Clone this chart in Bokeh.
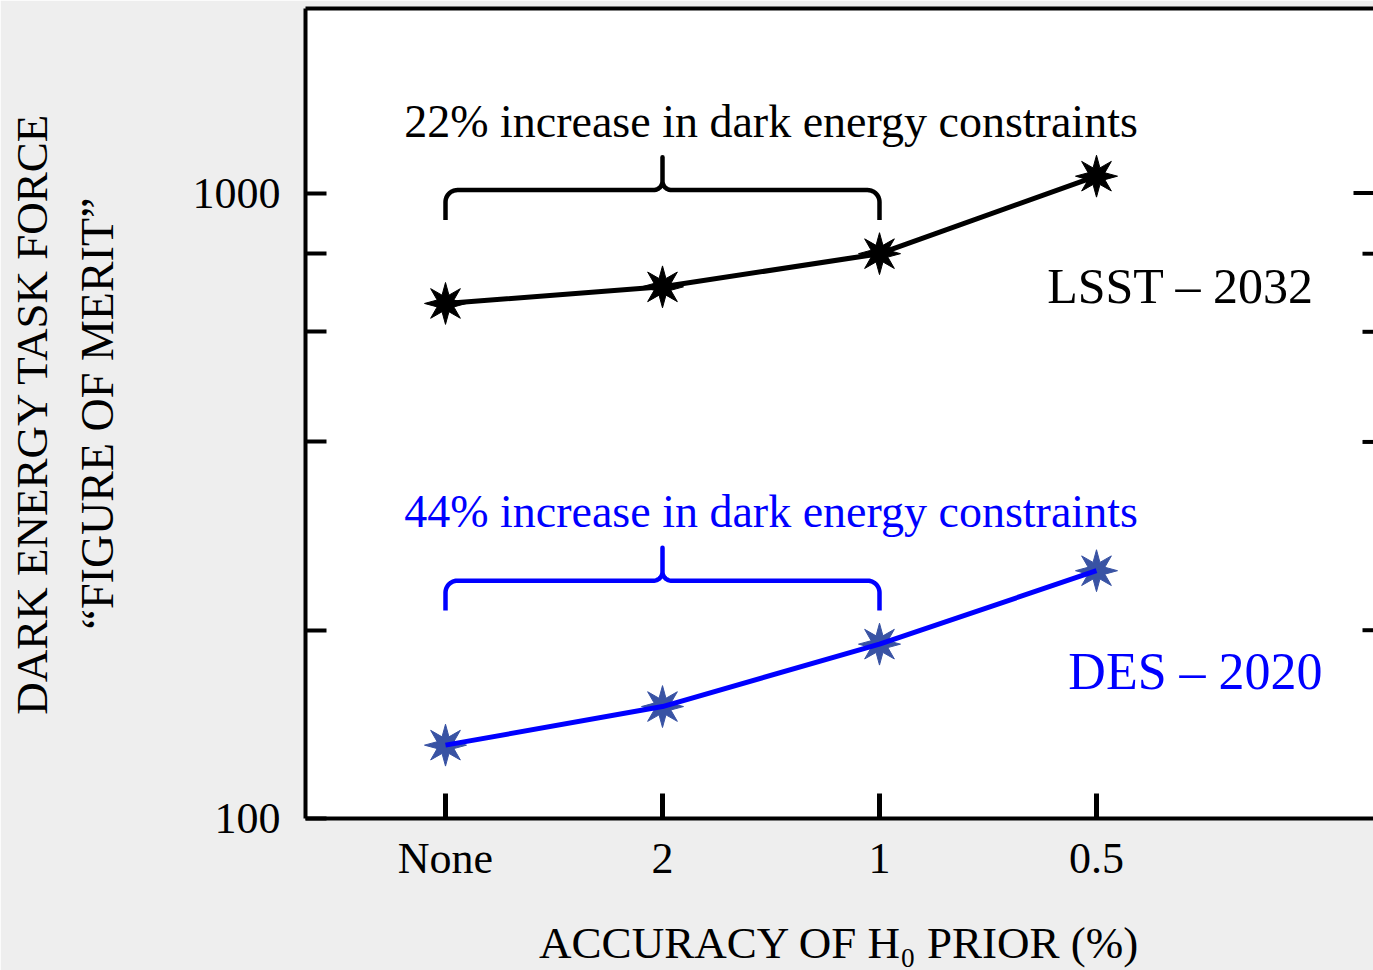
import numpy as np
from bokeh.plotting import figure
from bokeh.models import FixedTicker, LogAxis, LinearAxis, Range1d
from bokeh.core.properties import value
from bokeh.embed import file_html
from bokeh.resources import INLINE

# ---------------- data ----------------
h0_prior = ["None", "2", "1", "0.5"]          # accuracy of H0 prior (%)
lsst_fom = [666, 708, 800, 1064]              # LSST - 2032 figure of merit
des_fom = [131, 151, 190, 249]                # DES - 2020 figure of merit
y_major = [100, 1000]
y_minor = [200, 400, 600, 800]
lsst_note = "22% increase in dark energy constraints"
des_note = "44% increase in dark energy constraints"
lsst_name = "LSST \u2013 2032"
des_name = "DES \u2013 2020"

# ---------------- geometry ----------------
W, H = 1373, 970
BL, BB, BT = 305, 150, 8
FW = W - BL
FH = H - BB - BT
PX_X = 217.0      # pixels per category step
PX_DEC = 627.0    # pixels per decade
x_start = -140.0 / PX_X
x_end = x_start + FW / PX_X
y_top = 100 * 10 ** (FH / PX_DEC)

FONT = "Liberation Serif"
BLACK = "#000000"
BLUE = "#0000ff"
STAR_BLUE = "#3953a4"

xpos = list(range(len(h0_prior)))

p = figure(width=W, height=H, y_axis_type="log",
           x_range=Range1d(x_start, x_end), y_range=Range1d(100, y_top),
           output_backend="svg", toolbar_location=None,
           min_border_left=BL, min_border_bottom=BB, min_border_top=BT,
           min_border_right=0)
p.grid.visible = False
p.outline_line_color = None
p.background_fill_color = "white"
p.border_fill_color = "#eeeeee"

# bottom axis
xa = p.xaxis[0]
xa.ticker = FixedTicker(ticks=xpos, minor_ticks=[])
xa.major_label_overrides = {i: s for i, s in zip(xpos, h0_prior)}
xa.axis_line_width = 4
xa.axis_line_color = BLACK
xa.major_tick_in = 25
xa.major_tick_out = 0
xa.minor_tick_in = 0
xa.minor_tick_out = 0
xa.major_tick_line_width = 5
xa.major_label_text_font = FONT
xa.major_label_text_font_size = "44px"
xa.major_label_text_color = BLACK
xa.major_label_standoff = 15
xa.axis_label = "ACCURACY OF H\u2080 PRIOR (%)"
xa.axis_label_text_font = FONT
xa.axis_label_text_font_size = "45px"
xa.axis_label_text_font_style = "normal"
xa.axis_label_text_color = BLACK
xa.axis_label_standoff = 32

# left axis
ya = p.yaxis[0]
ya.ticker = FixedTicker(ticks=y_major, minor_ticks=y_minor)
ya.major_label_overrides = {v: str(v) for v in y_major}
ya.axis_line_width = 4
ya.axis_line_color = BLACK
ya.major_tick_in = 21
ya.major_tick_out = 0
ya.minor_tick_in = 21
ya.minor_tick_out = 0
ya.major_tick_line_width = 4
ya.minor_tick_line_width = 4
ya.minor_tick_line_color = BLACK
ya.major_label_text_font = FONT
ya.major_label_text_font_size = "44px"
ya.major_label_text_color = BLACK
ya.major_label_standoff = 25
ya.axis_label = "\u201cFIGURE OF MERIT\u201d"
ya.axis_label_text_font = FONT
ya.axis_label_text_font_size = "46px"
ya.axis_label_text_font_style = "normal"
ya.axis_label_text_color = BLACK
ya.axis_label_standoff = 67

ya2 = LogAxis(ticker=FixedTicker(ticks=[], minor_ticks=[]),
              axis_label="DARK ENERGY TASK FORCE",
              axis_line_color=None, major_tick_out=0, major_tick_in=0,
              minor_tick_out=0, minor_tick_in=0,
              major_label_text_font_size="0px", major_label_standoff=0,
              axis_label_text_font=FONT, axis_label_text_font_size="45px",
              axis_label_text_font_style="normal", axis_label_text_color=BLACK,
              axis_label_standoff=12)
p.add_layout(ya2, "left")

# top border
ta = LinearAxis(ticker=FixedTicker(ticks=[], minor_ticks=[]),
                axis_line_width=4, axis_line_color=BLACK,
                major_tick_out=0, major_tick_in=0, minor_tick_out=0, minor_tick_in=0,
                major_label_text_font_size="0px", major_label_standoff=0)
p.add_layout(ta, "above")

# right-side inward ticks
p.ray(x=[x_end] * len(y_major[1:]), y=y_major[1:], length=20, length_units="screen",
      angle=np.pi, line_width=4, line_color=BLACK)
p.ray(x=[x_end] * len(y_minor), y=y_minor, length=11, length_units="screen",
      angle=np.pi, line_width=4, line_color=BLACK)


def star(xc, yc, R=21.0, r=9.0):
    k = np.arange(16)
    ang = np.pi / 2 + k * np.pi / 8
    rad = np.where(k % 2 == 0, R, r)
    xs = xc + rad * np.cos(ang) / PX_X
    ys = yc * 10 ** (rad * np.sin(ang) / PX_DEC)
    return list(xs), list(ys)


def brace(xa_, xb_, ylev, drop=30.0, rise=33.0, rr=12.0, rc=9.0, n=14):
    L = (xb_ - xa_) * PX_X
    m = L / 2
    pts = [(0.0, -drop)]
    for a in np.linspace(np.pi, np.pi / 2, n):
        pts.append((rr + rr * np.cos(a), -rr + rr * np.sin(a)))
    for a in np.linspace(-np.pi / 2, 0, n):
        pts.append((m - rc + rc * np.cos(a), rc + rc * np.sin(a)))
    pts.append((m, rise))
    for a in np.linspace(np.pi, 1.5 * np.pi, n):
        pts.append((m + rc + rc * np.cos(a), rc + rc * np.sin(a)))
    for a in np.linspace(np.pi / 2, 0, n):
        pts.append((L - rr + rr * np.cos(a), -rr + rr * np.sin(a)))
    pts.append((L, -drop))
    bx = [xa_ + px / PX_X for px, _ in pts]
    by = [ylev * 10 ** (py / PX_DEC) for _, py in pts]
    return bx, by


# stars
for series, col in ((lsst_fom, BLACK), (des_fom, STAR_BLUE)):
    sx, sy = [], []
    for xv, yv in zip(xpos, series):
        a, b = star(xv, yv)
        sx.append(a)
        sy.append(b)
    p.patches(sx, sy, fill_color=col, line_color=col, line_width=1)

# lines
p.line(xpos, lsst_fom, line_color=BLACK, line_width=5)
p.line(xpos, des_fom, line_color=BLUE, line_width=5)

# braces
bx, by = brace(xpos[0], xpos[2], 1011)
p.line(bx, by, line_color=BLACK, line_width=4.5, line_join="round")
bx, by = brace(xpos[0], xpos[2], 240)
p.line(bx, by, line_color=BLUE, line_width=4.5, line_join="round")

# annotations
p.text(x=[1.5], y=[1302], text=[lsst_note], text_align="center", text_baseline="alphabetic",
       text_font=value(FONT), text_font_size="46px", text_color=BLACK)
p.text(x=[1.5], y=[310], text=[des_note], text_align="center", text_baseline="alphabetic",
       text_font=value(FONT), text_font_size="46px", text_color=BLUE)
p.text(x=[3.387], y=[710], text=[lsst_name], text_align="center", text_baseline="alphabetic",
       text_font=value(FONT), text_font_size="50px", text_color=BLACK)
p.text(x=[3.456], y=[172], text=[des_name], text_align="center", text_baseline="alphabetic",
       text_font=value(FONT), text_font_size="52px", text_color=BLUE)

open("out.html", "w").write(file_html(p, INLINE))
